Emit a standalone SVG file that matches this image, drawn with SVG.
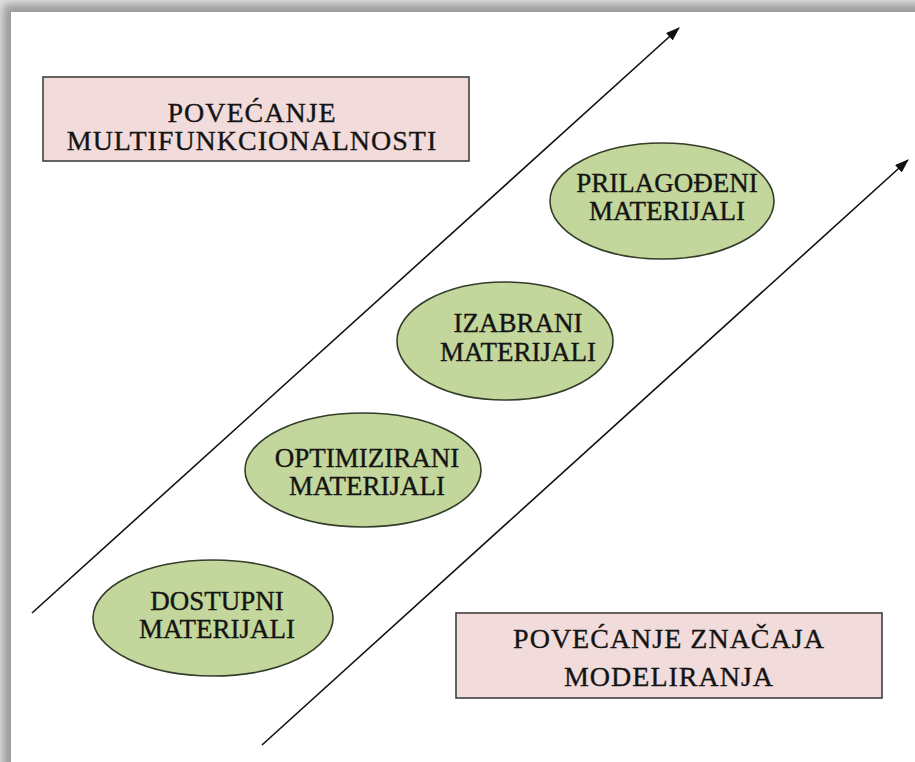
<svg xmlns="http://www.w3.org/2000/svg" width="915" height="762" viewBox="0 0 915 762">
  <style>
    .box { fill: #f2dcdb; stroke: #404040; stroke-width: 1.6; }
    .oval { fill: #c3d69b; stroke: #333d29; stroke-width: 1.6; }
    .label { fill: #141414; stroke: #141414; stroke-width: 0.35; text-anchor: middle; }
    .box-text { font-size: 28px; letter-spacing: 1px; }
    .oval-text { font-size: 27px; }
    .axis { stroke: #111; stroke-width: 1.6; fill: none; marker-end: url(#head); }
  </style>
  <defs>
    <filter id="soft" x="-5%" y="-5%" width="110%" height="110%">
      <feGaussianBlur stdDeviation="5"/>
    </filter>
    <marker id="head" viewBox="0 0 14 10" refX="13" refY="5" markerWidth="14" markerHeight="10" markerUnits="userSpaceOnUse" orient="auto">
      <path d="M0,0 L14,5 L0,10 Z" fill="#111"/>
    </marker>
  </defs>

  <!-- page with drop shadow -->
  <rect x="0" y="0" width="915" height="762" fill="#e4e4e4"/>
  <rect x="3" y="4" width="930" height="780" fill="#9a9a9a" filter="url(#soft)"/>
  <rect x="11" y="12" width="910" height="760" fill="#ffffff"/>

  <!-- connectors -->
  <g id="connectors">
    <line class="axis" x1="32" y1="613" x2="679" y2="28"/>
    <line class="axis" x1="262" y1="745" x2="908" y2="160"/>
  </g>

  <g font-family="Liberation Serif, Times New Roman, DejaVu Serif, serif">
    <g id="multifunkcionalnost">
      <rect class="box" x="43" y="77" width="426" height="84"/>
      <text class="label box-text" x="252" y="122">POVEĆANJE</text>
      <text class="label box-text" x="252" y="150">MULTIFUNKCIONALNOSTI</text>
    </g>

    <g id="modeliranje">
      <rect class="box" x="456" y="613" width="426" height="85"/>
      <text class="label box-text" x="669" y="648">POVEĆANJE ZNAČAJA</text>
      <text class="label box-text" x="669" y="686">MODELIRANJA</text>
    </g>

    <g id="prilagodjeni">
      <ellipse class="oval" cx="662" cy="201" rx="112" ry="58"/>
      <text class="label oval-text" x="667" y="192">PRILAGOĐENI</text>
      <text class="label oval-text" x="667" y="220">MATERIJALI</text>
    </g>

    <g id="izabrani">
      <ellipse class="oval" cx="505" cy="341" rx="108" ry="59"/>
      <text class="label oval-text" x="518" y="332">IZABRANI</text>
      <text class="label oval-text" x="518" y="361">MATERIJALI</text>
    </g>

    <g id="optimizirani">
      <ellipse class="oval" cx="363" cy="470" rx="118" ry="57"/>
      <text class="label oval-text" x="367" y="467">OPTIMIZIRANI</text>
      <text class="label oval-text" x="367" y="495">MATERIJALI</text>
    </g>

    <g id="dostupni">
      <ellipse class="oval" cx="213" cy="618" rx="120" ry="58"/>
      <text class="label oval-text" x="217" y="610">DOSTUPNI</text>
      <text class="label oval-text" x="217" y="638">MATERIJALI</text>
    </g>
  </g>
</svg>
